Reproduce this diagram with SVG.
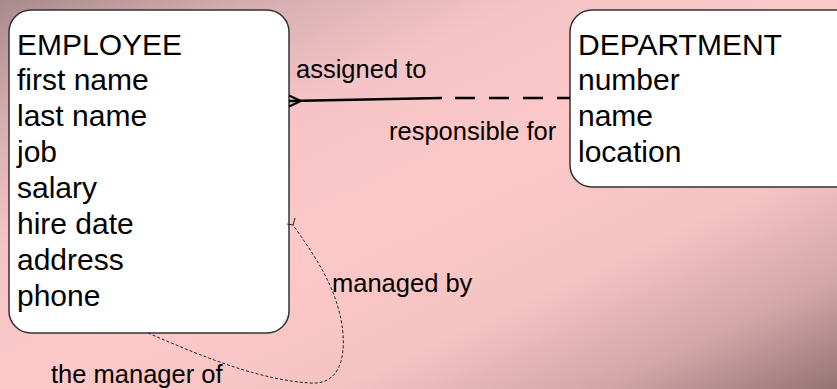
<svg xmlns="http://www.w3.org/2000/svg" width="837" height="389" viewBox="0 0 837 389">
<defs>
<linearGradient id="bg" x1="0" y1="0" x2="1" y2="1">
<stop offset="0" stop-color="#a88a8c"/>
<stop offset="0.15" stop-color="#d4adb0"/>
<stop offset="0.32" stop-color="#f6c4c6"/>
<stop offset="0.5" stop-color="#fcc8c8"/>
<stop offset="0.7" stop-color="#f6c3c3"/>
<stop offset="0.86" stop-color="#d2a6a7"/>
<stop offset="1" stop-color="#957373"/>
</linearGradient>
<style>
.box{fill:#ffffff;stroke:#333333;stroke-width:1.5}
.ent{font-family:"Liberation Sans",Arial,sans-serif;font-size:30px;fill:#000}
.lbl{font-family:"Liberation Sans",Arial,sans-serif;font-size:25.5px;fill:#000}
.rel{fill:none;stroke:#000;stroke-width:2.5}
.rec{fill:none;stroke:#222;stroke-width:1;stroke-dasharray:3,2}
</style>
</defs>
<rect x="0" y="0" width="837" height="389" fill="url(#bg)"/>

<g id="employee">
<rect class="box" x="9" y="10" width="280" height="323" rx="22" ry="22"/>
<text class="ent" x="17" y="55">EMPLOYEE</text>
<text class="ent" x="17" y="90">first name</text>
<text class="ent" x="17" y="126">last name</text>
<text class="ent" x="17" y="162">job</text>
<text class="ent" x="17" y="198">salary</text>
<text class="ent" x="17" y="234">hire date</text>
<text class="ent" x="17" y="270">address</text>
<text class="ent" x="17" y="306">phone</text>
</g>

<g id="department">
<rect class="box" x="570" y="10" width="290" height="177" rx="22" ry="22"/>
<text class="ent" x="578" y="55">DEPARTMENT</text>
<text class="ent" x="578" y="90">number</text>
<text class="ent" x="578" y="126">name</text>
<text class="ent" x="578" y="162">location</text>
</g>

<g id="connectors">
<path class="rel" d="M289,101 L442,98"/>
<path class="rel" d="M455,98 L570,98" stroke-dasharray="20,14"/>
<path fill="none" stroke="#000" stroke-width="2" d="M289,95.5 L301,101 L289,106.5 M289,101 L301,101"/>
<path class="rec" d="M148,333 C 210,360 262,380 310,383 C 350,386 345,335 340,315 C 332,280 312,252 293,225"/>
<path fill="none" stroke="#222" stroke-width="1" d="M287,224 L293,225 L295,218"/>
</g>

<g id="labels">
<text class="lbl" x="296" y="78">assigned to</text>
<text class="lbl" x="389" y="140">responsible for</text>
<text class="lbl" x="332" y="292">managed by</text>
<text class="lbl" x="51" y="383">the manager of</text>
</g>
</svg>
